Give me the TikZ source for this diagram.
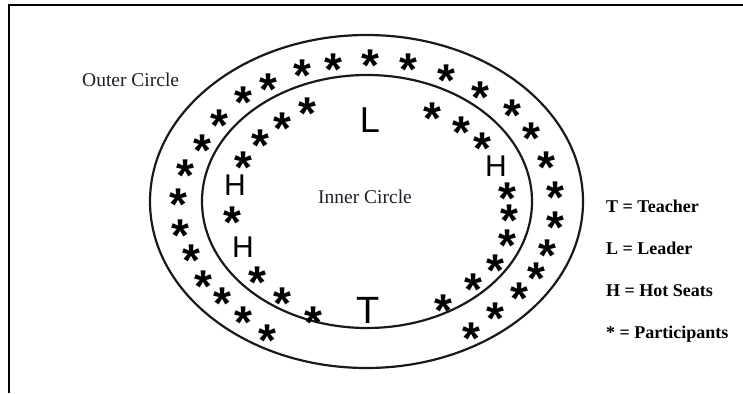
\documentclass[tikz,border=0pt]{standalone}
\usepackage{fontspec}
\setmainfont{Liberation Serif}
\setsansfont{Liberation Sans}
\usepackage{tikz}
\usetikzlibrary{positioning}
\definecolor{ringclr}{RGB}{25,25,25}
\definecolor{textclr}{RGB}{30,30,40}
\newcommand{\seatmark}{\raisebox{-0.58em}{*}}
\tikzset{
  ring/.style={draw=ringclr,line width=2.2pt},
  seat/.style={inner sep=0pt,text height=7pt,text depth=7pt,
               font=\sffamily\bfseries\fontsize{46}{46}\selectfont},
  role/.style={inner sep=0pt,text height=0.716*#1pt,text depth=0pt,
               font=\sffamily\fontsize{#1}{#1}\selectfont},
  caption/.style={inner sep=0pt,anchor=base west,text=textclr,
                  font=\fontsize{19.5}{20}\selectfont},
  keyline/.style={inner sep=0pt,anchor=base west,
                  font=\bfseries\fontsize{18}{18}\selectfont},
}

\begin{document}
\begin{tikzpicture}[x=1pt,y=-1pt]
\useasboundingbox (0,0) rectangle (743,393);
\draw[line width=2pt] (9,393) -- (9,5) -- (743,5);

\draw[ring] (366.5,201.5) ellipse [x radius=216.5,y radius=166.5];
\draw[ring] (367,201.5) ellipse [x radius=165,y radius=126.5];

\node[caption] (outer) at (82,87) {Outer Circle};
\node[caption] (inner) at (318,203) {Inner Circle};

\foreach \x/\y [count=\i] in {268/79,243/92,219/115,202/140,185/165,178/194,
    180/225,191/250,203/276,222/293,243/312,267/330,302/65,333/59,370/55,
    408/59,446/70,480/87,512/105,531/128,546/157,555/187,555/217,547/245,
    536/268,519/288,495/308,471/328}
  \node[seat] (o\i) at (\x,\y) {\seatmark};

\foreach \x/\y [count=\i] in {307/103,282/118,260/135,243/157,232/212,
    257/272,282/293,313/312,443/300,473/279,495/260,507/235,509/210,
    507/188,482/138,461/122,432/108}
  \node[seat] (i\i) at (\x,\y) {\seatmark};

\node[role=36] (leader) at (370,120) {L};
\node[role=38] (teacher) at (368,310) {T};
\node[role=30] (hot1) at (235,185) {H};
\node[role=30] (hot2) at (243,247) {H};
\node[role=30] (hot3) at (496,166) {H};

\node[keyline] (keyT) at (606,212) {T = Teacher};
\node[keyline] (keyL) at (606,254) {L = Leader};
\node[keyline] (keyH) at (606,296) {H = Hot Seats};
\node[keyline] (keyP) at (606,338) {* = Participants};
\end{tikzpicture}
\end{document}
